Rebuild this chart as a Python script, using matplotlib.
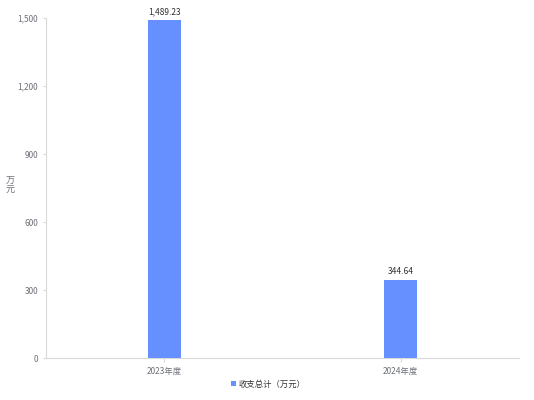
import matplotlib
matplotlib.use('Agg')
import matplotlib.pyplot as plt

plt.rcParams['font.family'] = ['Noto Sans CJK SC', 'DejaVu Sans']

###### dados ######
categorias = ['2023年度', '2024年度']
valores = [1489.23, 344.64]
rotulos = ['1,489.23', '344.64']
yticks = [0, 300, 600, 900, 1200, 1500]
ytick_labels = ['0', '300', '600', '900', '1,200', '1,500']

cor_barra = '#6690ff'
cor_eixo = '#d9d9d9'
cor_texto = '#6e7079'

fig = plt.figure(figsize=(5.34, 4.0), dpi=100)
ax = fig.add_axes([0.0861, 0.105, 0.886, 0.85])

x = list(range(len(categorias)))
barras = ax.bar(x, valores, width=0.14, color=cor_barra, label='收支总计（万元）', zorder=3)

for xi, v, r in zip(x, valores, rotulos):
    ax.text(xi, v + 18, r, ha='center', va='bottom', fontsize=6, color='#333333')

ax.set_xlim(-0.5, 1.5)
ax.set_ylim(0, 1500)
ax.set_xticks(x)
ax.set_xticklabels(categorias)
ax.set_yticks(yticks)
ax.set_yticklabels(ytick_labels)

for lado in ['top', 'right']:
    ax.spines[lado].set_visible(False)
for lado in ['left', 'bottom']:
    ax.spines[lado].set_color(cor_eixo)
    ax.spines[lado].set_linewidth(0.8)

ax.tick_params(axis='both', colors=cor_eixo, labelcolor=cor_texto, labelsize=6, length=3, width=0.8)
ax.tick_params(axis='y', length=2)

# rotulo do eixo y empilhado verticalmente
fig.text(10 / 534, 1 - 186 / 400, '万\n元', ha='center', va='center', fontsize=6.5,
         color=cor_texto, linespacing=1.0)

ax.legend(loc='upper center', bbox_to_anchor=(0.47, -0.042), frameon=False, fontsize=6,
          handlelength=0.6, handleheight=0.6, handletextpad=0.4, labelcolor='#333333')

fig.savefig('out.png', dpi=100)
